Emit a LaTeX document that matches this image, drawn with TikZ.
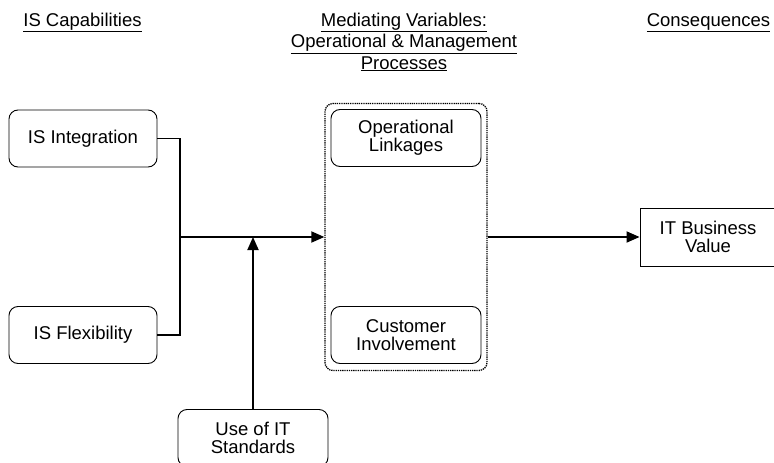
\documentclass[tikz,border=0pt]{standalone}
\usepackage{fontspec}
\setmainfont{Liberation Sans}
\usetikzlibrary{arrows.meta}
\begin{document}
\begin{tikzpicture}[x=1pt,y=-1pt,
    box/.style={draw,rounded corners=9pt,line width=0.9pt,minimum width=148pt,minimum height=57pt,align=center,font=\fontsize{18.5}{18}\selectfont},
    head/.style={anchor=base,align=center,font=\fontsize{18.5}{21.5}\selectfont},
    link/.style={line width=1.3pt},
    arr/.style={line width=1.8pt,-{Triangle[length=13pt,width=11pt]}}]
  \useasboundingbox (0,0) rectangle (774,463);
  \draw
    (82.5,26) node[head] (cap){\underline{IS Capabilities}}
    (404,69) node[head] (med){\underline{Mediating Variables:}\\\underline{Operational \& Management}\\\underline{Processes}}
    (708.5,26) node[head] (con){\underline{Consequences}}
    (83,138.5) node[box] (integ){IS Integration}
    (83,335) node[box] (flex){IS Flexibility}
    (253,438) node[box,minimum width=150pt] (std){Use of IT\\Standards}
    (406,237) node[draw,line width=1.3pt,dash pattern=on 1.3pt off 0.9pt,rounded corners=8pt,minimum width=162pt,minimum height=267pt] (proc){}
    (406,138) node[box,minimum width=150pt] (ops){Operational\\Linkages}
    (406,335) node[box,minimum width=150pt] (cust){Customer\\Involvement}
    (708,237) node[box,rounded corners=0pt,minimum width=136pt,minimum height=58pt] (val){IT Business\\Value};
  \coordinate (j) at (180,237);
  \begin{scope}[link]
    \draw (integ.east) -| (j);
    \draw (flex.east) -| (j);
  \end{scope}
  \begin{scope}[arr]
    \draw (j) to (proc.west);
    \draw (std.north) to (std.north |- j);
    \draw (proc.east) to (val.west);
  \end{scope}
\end{tikzpicture}
\end{document}
